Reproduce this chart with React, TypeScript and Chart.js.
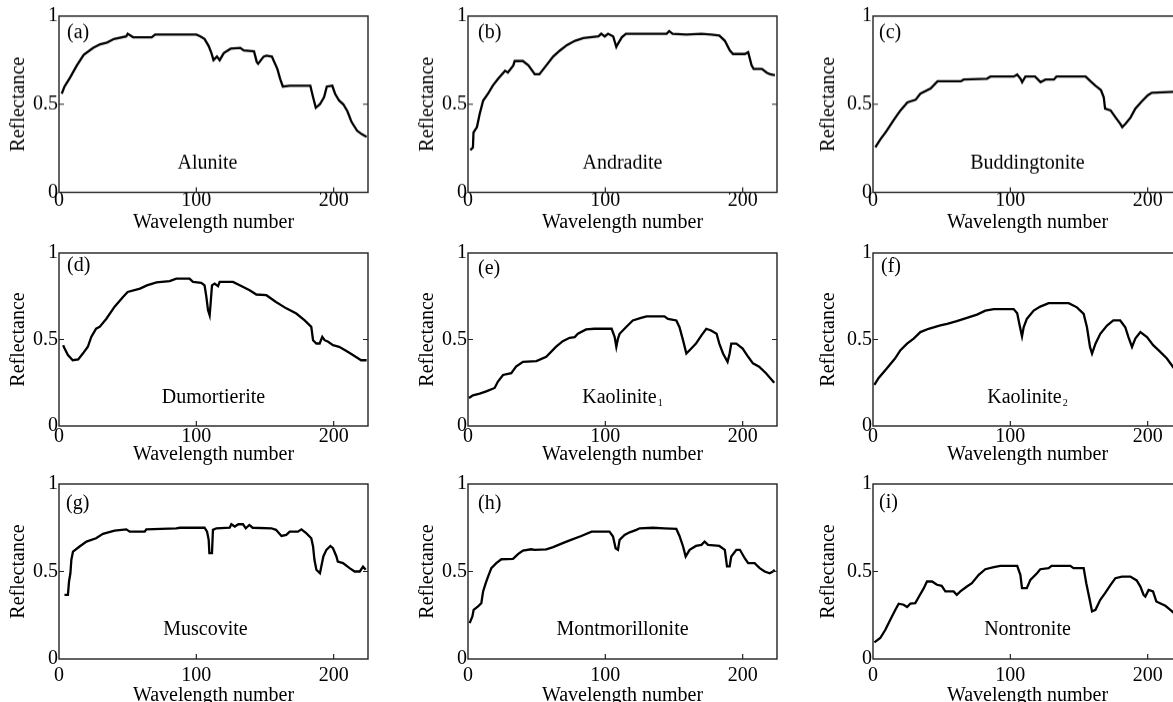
import React, { useEffect, useRef } from "react";
import { Chart, registerables } from "chart.js";
Chart.register(...registerables);

type Pt = [number, number];

// ---------- data ----------
const xTickValues = [0, 100, 200];
const yTickValues = [0, 0.5, 1];
const xMax = 225;
const panelLetters = ["(a)", "(b)", "(c)", "(d)", "(e)", "(f)", "(g)", "(h)", "(i)"];
const mineralNames = ["Alunite", "Andradite", "Buddingtonite", "Dumortierite", "Kaolinite", "Kaolinite", "Muscovite", "Montmorillonite", "Nontronite"];
const nameSubscripts = ["", "", "", "", "1", "2", "", "", ""];

const alunite: Pt[] = [[2,0.56],[4,0.6],[8,0.65],[13,0.72],[18,0.78],[25,0.82],[30,0.84],[35,0.85],[40,0.87],[49,0.885],[50,0.9],[54,0.88],[67.5,0.88],[70,0.895],[100,0.895],[103,0.885],[106,0.87],[109,0.83],[111,0.79],[112.5,0.75],[115,0.77],[117,0.75],[120,0.79],[125,0.815],[132,0.82],[134.5,0.805],[142,0.8],[144,0.74],[145,0.73],[149,0.77],[151,0.775],[155,0.77],[159,0.7],[161,0.645],[163,0.6],[168,0.605],[183,0.605],[185,0.54],[187,0.48],[190,0.5],[193,0.54],[195,0.6],[199,0.605],[201,0.56],[204,0.52],[207,0.5],[210,0.46],[213,0.4],[217,0.35],[220.5,0.33],[224,0.315]];

const andradite: Pt[] = [[1.7,0.24],[3.6,0.255],[4,0.34],[6.5,0.37],[8.5,0.445],[11,0.52],[14.6,0.56],[18,0.605],[22,0.645],[27,0.69],[29,0.68],[33,0.72],[34,0.745],[40,0.745],[44,0.72],[48.6,0.67],[52,0.67],[57,0.72],[62,0.77],[67,0.805],[72,0.835],[78,0.86],[84,0.875],[95,0.885],[97,0.9],[99.6,0.885],[102,0.9],[105.7,0.885],[108,0.825],[109,0.84],[112,0.88],[115,0.9],[144.6,0.9],[146.5,0.915],[149,0.9],[159,0.895],[170,0.9],[177,0.895],[183,0.89],[187,0.86],[190.7,0.805],[193,0.785],[201.6,0.785],[204,0.795],[206.5,0.72],[208,0.7],[214,0.7],[217.4,0.68],[220,0.67],[223.5,0.665]];

const buddingtonite: Pt[] = [[1.7,0.256],[5.3,0.3],[10,0.35],[15,0.41],[20,0.465],[25,0.51],[31,0.525],[34.5,0.56],[42,0.59],[47,0.63],[64,0.63],[66,0.64],[83,0.645],[85.5,0.657],[102.5,0.657],[105,0.668],[107.4,0.645],[108.6,0.625],[111,0.657],[118,0.657],[122,0.625],[125.6,0.64],[131.7,0.64],[133.6,0.657],[154.8,0.657],[158.4,0.63],[162,0.605],[166,0.58],[168,0.54],[169,0.475],[173,0.465],[176.6,0.425],[180,0.39],[181.5,0.37],[184,0.39],[187.6,0.425],[191,0.475],[195,0.51],[200,0.55],[203,0.565],[219,0.57],[224,0.57]];

const dumortierite: Pt[] = [[3,0.467],[4,0.45],[6.5,0.41],[10,0.38],[14,0.385],[17.5,0.42],[21,0.458],[23.5,0.515],[27,0.563],[29.6,0.573],[34.5,0.62],[40.5,0.69],[46.6,0.746],[50,0.775],[59,0.794],[64,0.813],[71,0.83],[80.6,0.838],[85.4,0.852],[95,0.852],[97.6,0.833],[103.6,0.827],[106,0.813],[107.3,0.746],[108.5,0.67],[109.7,0.64],[110.4,0.708],[111.4,0.813],[113.3,0.823],[115.8,0.808],[117,0.833],[126.7,0.833],[131.6,0.813],[138.8,0.785],[143.7,0.76],[151,0.756],[158,0.717],[165.5,0.68],[172.8,0.65],[178.9,0.61],[183.7,0.573],[185,0.496],[187.4,0.477],[189.8,0.477],[191.7,0.515],[193.4,0.496],[196,0.487],[199.5,0.467],[204,0.458],[209,0.435],[214,0.41],[218,0.39],[220,0.38],[224,0.38]];

const kaolinite1: Pt[] = [[0.7,0.162],[3.6,0.177],[8.5,0.187],[13.3,0.2],[19.4,0.22],[21.8,0.257],[25.5,0.295],[31.5,0.305],[35,0.343],[40,0.371],[49.8,0.375],[57,0.4],[64,0.457],[69,0.49],[74,0.51],[77.7,0.514],[80,0.533],[86,0.558],[92,0.562],[104.6,0.562],[106.8,0.514],[108,0.457],[109.2,0.505],[110.4,0.533],[115,0.571],[120,0.61],[126,0.625],[130,0.634],[143,0.634],[145.6,0.619],[151.7,0.61],[154,0.571],[156.6,0.495],[159,0.419],[162.6,0.448],[166,0.476],[170,0.524],[173.5,0.562],[177,0.552],[181,0.533],[183,0.476],[185.7,0.419],[189,0.371],[190.5,0.419],[191.7,0.476],[195.4,0.476],[200,0.448],[204,0.4],[207.5,0.362],[212,0.343],[217,0.305],[223,0.25]];

const kaolinite2: Pt[] = [[1,0.238],[4,0.276],[10,0.333],[16,0.39],[20,0.438],[24.8,0.476],[29.6,0.505],[34.5,0.543],[40.5,0.562],[49,0.581],[54,0.59],[61,0.606],[68.4,0.625],[75.7,0.644],[81.8,0.667],[88,0.676],[102.4,0.676],[105,0.651],[106.8,0.581],[108.5,0.518],[109.7,0.571],[112,0.619],[117,0.667],[121.8,0.69],[127.9,0.71],[142.5,0.71],[148.5,0.686],[153.4,0.648],[155.8,0.571],[158,0.457],[159.5,0.419],[162,0.476],[165.5,0.533],[170.4,0.581],[175,0.61],[180,0.61],[183.7,0.571],[186,0.514],[188.6,0.457],[191,0.505],[194.7,0.543],[199.5,0.514],[204,0.467],[209,0.43],[214,0.39],[219,0.335],[224,0.29]];

const muscovite: Pt[] = [[4,0.367],[6.5,0.367],[7.3,0.443],[8.3,0.49],[9,0.567],[10.2,0.614],[15,0.643],[20,0.671],[27,0.69],[32,0.715],[40.5,0.734],[49,0.741],[51.5,0.728],[62.4,0.728],[63.6,0.741],[85.4,0.747],[88,0.75],[106,0.75],[107.8,0.728],[109,0.681],[109.5,0.605],[111.4,0.605],[112.1,0.738],[114.6,0.747],[124.3,0.75],[125.5,0.77],[128,0.757],[130.6,0.77],[134,0.77],[136,0.747],[138.6,0.766],[141,0.75],[154.6,0.747],[158,0.738],[162,0.703],[165.5,0.709],[168,0.728],[174,0.728],[176.5,0.741],[180,0.719],[183.7,0.69],[185,0.643],[186,0.567],[187.4,0.51],[190,0.49],[191,0.528],[192.5,0.586],[194.7,0.624],[197.6,0.646],[199.5,0.633],[202,0.586],[203,0.557],[206.8,0.548],[211.6,0.519],[215.3,0.5],[219,0.5],[221.4,0.528],[223.3,0.51]];

const montmorillonite: Pt[] = [[1.2,0.205],[3.2,0.243],[4.1,0.281],[7.3,0.3],[9.7,0.319],[11,0.386],[12.9,0.433],[14.6,0.471],[17,0.519],[20.6,0.548],[24.3,0.57],[32.8,0.572],[36.4,0.599],[40,0.62],[46,0.627],[48.5,0.624],[57,0.627],[62,0.639],[69,0.662],[75,0.681],[82.5,0.703],[90,0.728],[103,0.728],[105.6,0.7],[107.5,0.633],[109.2,0.624],[110.4,0.681],[114,0.709],[117.7,0.724],[122.6,0.738],[125,0.747],[134.7,0.75],[143,0.747],[151.7,0.743],[154,0.703],[156.6,0.643],[158.5,0.586],[161.4,0.624],[166,0.646],[170,0.652],[172.3,0.671],[174.8,0.652],[183,0.646],[187,0.624],[188.6,0.529],[190.5,0.529],[191.7,0.586],[195.4,0.624],[198,0.624],[201.5,0.576],[204,0.548],[208.7,0.548],[212.4,0.519],[216,0.5],[219.7,0.49],[222,0.5],[223.3,0.51]];

const nontronite: Pt[] = [[1,0.095],[5.3,0.12],[9,0.167],[12.6,0.224],[16.3,0.281],[18.7,0.316],[22.3,0.31],[24.8,0.297],[27.2,0.316],[30.8,0.319],[33.3,0.354],[37,0.405],[39.3,0.443],[43,0.443],[46.6,0.424],[50,0.418],[52.7,0.386],[58.7,0.386],[61,0.367],[63.6,0.386],[68.4,0.414],[72,0.433],[77,0.481],[81.8,0.513],[88,0.525],[92.7,0.532],[105,0.532],[107.3,0.481],[108.5,0.405],[112,0.405],[114.6,0.452],[119.4,0.49],[121.8,0.513],[127.9,0.519],[130,0.532],[143.7,0.532],[146,0.519],[153.4,0.519],[155.3,0.433],[157.8,0.338],[159.5,0.272],[162,0.281],[165.5,0.338],[169,0.376],[173,0.424],[176.5,0.462],[181.3,0.471],[187.4,0.471],[192,0.449],[194.7,0.414],[197,0.367],[198.3,0.357],[200.7,0.395],[203.9,0.386],[206.3,0.329],[209,0.319],[212.9,0.304],[216.5,0.281],[218.7,0.266],[224,0.24]];

const spectra: Pt[][] = [alunite, andradite, buddingtonite, dumortierite, kaolinite1, kaolinite2, muscovite, montmorillonite, nontronite];

// ---------- layout ----------
const FONT = "'Liberation Serif', 'Times New Roman', serif";
const colPlotLeft = [59, 468, 873];
const rowPlotTop = [16, 253, 484];
const rowPlotHeight = [176, 173, 175];
const plotWidth = 309;
const yAxisWidth = 56;
const padTop = 14;
const padRight = 8;
const yTitleOffset = [40.5, 40.3, 44.7];
const xTickPad = [-1.5, 0.5, 6.5];
const xTitleCenter = [30.5, 29, 37];
const nameXOffset = [-6, 0, 0, 0, 0, 0, -8, 0, 0];
const letterDy = [16.5, 17, 17, 12.5, 16, 14, 20, 19.5, 18.5];
const letterDx = [8, 10, 6, 8, 10, 8, 7, 10, 6];

const decorPlugin = {
  id: "panelDecor",
  afterDraw(chart: any, _args: any, opts: any) {
    const { ctx, chartArea } = chart;
    const { left, right, top, bottom } = chartArea;
    const xs = chart.scales.x;
    const ys = chart.scales.y;
    ctx.save();
    ctx.strokeStyle = "#222";
    ctx.lineWidth = 1.4;
    ctx.strokeRect(left, top, right - left, bottom - top);
    ctx.lineWidth = 1.2;
    ctx.beginPath();
    xTickValues.forEach((v) => {
      if (v === 0) return;
      const px = xs.getPixelForValue(v);
      ctx.moveTo(px, bottom);
      ctx.lineTo(px, bottom - 5);
    });
    const py = ys.getPixelForValue(0.5);
    ctx.moveTo(left, py);
    ctx.lineTo(left + 5, py);
    ctx.moveTo(right, py);
    ctx.lineTo(right - 5, py);
    ctx.stroke();

    ctx.fillStyle = "#000";
    ctx.textBaseline = "middle";
    ctx.font = `20px ${FONT}`;
    ctx.textAlign = "left";
    ctx.fillText(opts.letter, left + opts.letterDx, top + opts.letterDy);

    const cx = (left + right) / 2 + opts.nameDx;
    const ny = ys.getPixelForValue(0.166);
    const w1 = ctx.measureText(opts.name).width;
    let w2 = 0;
    if (opts.sub) {
      ctx.font = `10px ${FONT}`;
      w2 = ctx.measureText(opts.sub).width + 1;
    }
    const x0 = cx - (w1 + w2) / 2;
    ctx.font = `20px ${FONT}`;
    ctx.fillText(opts.name, x0, ny);
    if (opts.sub) {
      ctx.font = `10px ${FONT}`;
      ctx.fillText(opts.sub, x0 + w1 + 1, ny + 6);
    }
    ctx.restore();
  },
};

function Panel({ idx }: { idx: number }) {
  const ref = useRef<HTMLCanvasElement>(null);
  const row = Math.floor(idx / 3);
  const col = idx % 3;
  const xAxisHeight = xTitleCenter[row] + 10;
  const width = yAxisWidth + plotWidth + padRight;
  const height = padTop + rowPlotHeight[row] + xAxisHeight;
  const leftPos = colPlotLeft[col] - yAxisWidth;
  const topPos = rowPlotTop[row] - padTop;

  useEffect(() => {
    const pts = spectra[idx].map(([x, y]) => ({ x, y }));
    const chart = new Chart(ref.current as HTMLCanvasElement, {
      type: "line",
      data: {
        datasets: [
          {
            data: pts,
            borderColor: "#000",
            borderWidth: 2.3,
            pointRadius: 0,
            tension: 0,
            fill: false,
          },
        ],
      },
      options: {
        responsive: false,
        animation: false,
        events: [],
        layout: { padding: { top: padTop, right: padRight, left: 0, bottom: 0 } },
        plugins: {
          legend: { display: false },
          tooltip: { enabled: false },
          panelDecor: {
            letter: panelLetters[idx],
            name: mineralNames[idx],
            sub: nameSubscripts[idx],
            nameDx: nameXOffset[idx],
            letterDy: letterDy[idx],
            letterDx: letterDx[idx],
          },
        } as any,
        scales: {
          x: {
            type: "linear",
            min: 0,
            max: xMax,
            grid: { display: false, drawTicks: false },
            border: { display: false },
            afterBuildTicks: (s: any) => {
              s.ticks = xTickValues.map((v) => ({ value: v }));
            },
            afterFit: (s: any) => {
              s.height = xAxisHeight;
            },
            ticks: {
              color: "#000",
              padding: xTickPad[row],
              maxRotation: 0,
              font: { family: FONT, size: 20, lineHeight: 1 },
              callback: (v: any) => String(v),
            },
            title: {
              display: true,
              text: "Wavelength number",
              color: "#000",
              font: { family: FONT, size: 20, lineHeight: 1 },
              padding: { top: 0, bottom: 0 },
            },
          },
          y: {
            type: "linear",
            min: 0,
            max: 1,
            grid: { display: false, drawTicks: false },
            border: { display: false },
            afterBuildTicks: (s: any) => {
              s.ticks = yTickValues.map((v) => ({ value: v }));
            },
            afterFit: (s: any) => {
              s.width = yAxisWidth;
            },
            ticks: {
              color: "#000",
              padding: 1,
              font: { family: FONT, size: 20, lineHeight: 1 },
              callback: (v: any) => String(v),
            },
            title: {
              display: true,
              text: "Reflectance",
              color: "#000",
              font: { family: FONT, size: 20, lineHeight: 1 },
              padding: { top: yAxisWidth - yTitleOffset[col] - 10, bottom: 0 },
            },
          },
        },
      },
      plugins: [decorPlugin],
    });
    return () => chart.destroy();
  }, [idx]);

  return (
    <canvas
      ref={ref}
      width={width}
      height={height}
      style={{ position: "absolute", left: leftPos, top: topPos, width, height }}
    />
  );
}

export default function App() {
  return (
    <div
      style={{
        position: "absolute",
        left: 0,
        top: 0,
        width: 1173,
        height: 702,
        overflow: "hidden",
        background: "#fff",
      }}
    >
      {spectra.map((_, i) => (
        <Panel key={i} idx={i} />
      ))}
    </div>
  );
}
